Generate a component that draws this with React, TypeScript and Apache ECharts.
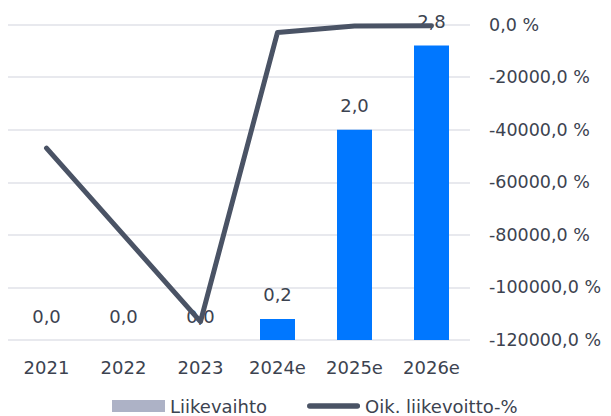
import React, { useEffect, useRef } from "react";
import * as echarts from "echarts";

const categories = ["2021", "2022", "2023", "2024e", "2025e", "2026e"];
const revenue = [0, 0, 0, 0.2, 2.0, 2.8];
const adjEbitPct = [-47000, -80000, -113000, -3000, -600, -500];
const rightTicks = { min: -120000, max: 0, interval: 20000 };

const FONT = "DejaVu Sans";
const TEXT = "#3c4350";
const BAR = "#0077ff";
const BAR_LEGEND = "#adb2c6";
const LINE = "#4a5365";

const LINE_ICON = "path://M3,0 L55,0 A3,3 0 0 1 55,6 L3,6 A3,3 0 0 1 3,0 Z";

const fmt1 = (v: number) => v.toFixed(1).replace(".", ",");

export default function App() {
  const ref = useRef<HTMLDivElement>(null);
  useEffect(() => {
    if (!ref.current) return;
    const chart = echarts.init(ref.current, undefined, { renderer: "svg" });
    chart.setOption({
      animation: false,
      textStyle: { fontFamily: FONT },
      grid: { left: 8, right: 141, top: 24.5, bottom: 76, outerBoundsMode: "none" },
      legend: {
        left: 112,
        top: 397,
        padding: 0,
        itemWidth: 53,
        itemHeight: 12,
        itemGap: 40,
        textStyle: {
          fontFamily: FONT,
          fontSize: 18,
          color: TEXT,
        },
        data: [
          { name: "Liikevaihto", icon: "rect", itemStyle: { color: BAR_LEGEND } },
          { name: "Oik. liikevoitto-%", icon: LINE_ICON, itemStyle: { color: LINE } },
        ],
      },
      xAxis: {
        type: "category",
        data: categories,
        axisLine: { show: false },
        axisTick: { show: false },
        axisLabel: { fontFamily: FONT, fontSize: 18, color: TEXT, margin: 18 },
      },
      yAxis: [
        { type: "value", min: 0, max: 3, show: false, splitLine: { show: false } },
        {
          type: "value",
          position: "right",
          min: rightTicks.min,
          max: rightTicks.max,
          interval: rightTicks.interval,
          axisLine: { show: false },
          axisTick: { show: false },
          splitLine: { lineStyle: { color: "#e0e2e8", width: 1.5 } },
          axisLabel: {
            fontFamily: FONT,
            fontSize: 17.5,
            color: TEXT,
            margin: 19,
            formatter: (v: number) => fmt1(v) + " %",
          },
        },
      ],
      series: [
        {
          name: "Liikevaihto",
          type: "bar",
          yAxisIndex: 0,
          barWidth: 35,
          itemStyle: { color: BAR_LEGEND },
          data: revenue.map((v) => ({ value: v, itemStyle: { color: BAR } })),
          label: {
            show: true,
            position: "top",
            distance: 15,
            fontFamily: FONT,
            fontSize: 18,
            color: TEXT,
            formatter: (p: any) => fmt1(p.value),
          },
          z: 1,
        },
        {
          name: "Oik. liikevoitto-%",
          type: "line",
          yAxisIndex: 1,
          data: adjEbitPct,
          symbol: "none",
          lineStyle: { color: LINE, width: 5, cap: "round", join: "round" },
          itemStyle: { color: LINE },
          z: 2,
        },
      ],
    });
    return () => chart.dispose();
  }, []);
  return (
    <div
      ref={ref}
      style={{ width: 611, height: 416, marginTop: -8, marginLeft: -8 }}
    />
  );
}
